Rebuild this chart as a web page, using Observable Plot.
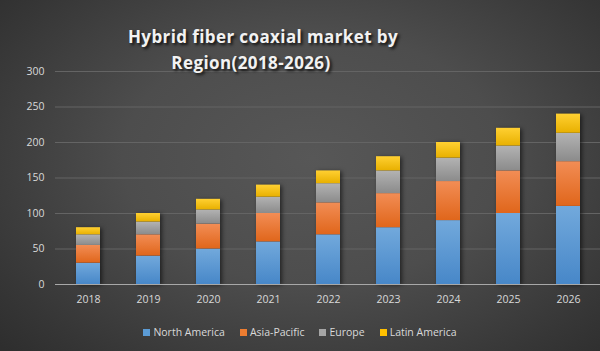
<!DOCTYPE html>
<html>
<head>
<meta charset="utf-8">
<script src="https://cdn.jsdelivr.net/npm/d3@7"></script>
<script src="https://cdn.jsdelivr.net/npm/@observablehq/plot@0.6"></script>
<style>
  html, body { margin: 0; padding: 0; }
  body {
    width: 600px; height: 351px; overflow: hidden; position: relative;
    background: radial-gradient(ellipse 70% 80% at 52% 45%, #575757 0%, #4d4d4d 45%, #363636 85%, #2e2e2e 100%);
    font-family: "Open Sans", sans-serif;
  }
  #title {
    position: absolute; left: 0; top: 0; width: 600px; z-index: 2;
    color: #f2f2f2; font-weight: bold; font-size: 17px; letter-spacing: 0.4px;
    text-shadow: 2px 2px 3px rgba(0,0,0,0.8);
  }
  #title div { position: absolute; white-space: nowrap; transform: translateX(-50%); line-height: 24px; }
  #chart { position: absolute; left: 0; top: 62px; }
  #legend {
    position: absolute; left: 0; top: 322px; width: 600px; height: 20px;
    display: flex; justify-content: center; align-items: center; gap: 15px;
    color: #d9d9d9; font-size: 10.5px;
  }
  #legend span.item { display: flex; align-items: center; }
  #legend span.sw { width: 7px; height: 7px; margin-right: 3px; display: inline-block; }
</style>
</head>
<body>
<div id="title"><div style="left:263px; top:25px;">Hybrid fiber coaxial market by</div><div style="left:251px; top:51px;">Region(2018-2026)</div></div>
<div id="chart"></div>
<div id="legend"></div>
<script>
const years = ["2018","2019","2020","2021","2022","2023","2024","2025","2026"];
const regions = ["North America","Asia-Pacific","Europe","Latin America"];
const northAmerica = [30,40,50,60,70,80,90,100,110];
const asiaPacific  = [25,30,35,40,45,48,55,60,63];
const europe       = [15,18,20,23,27,32,33,35,40];
const latinAmerica = [10,12,15,17,18,20,22,25,27];
const yTicks = [0,50,100,150,200,250,300];

const seriesValues = [northAmerica, asiaPacific, europe, latinAmerica];
const gradients = [
  ["gNA", "#72a9dc", "#4787c8"],
  ["gAP", "#f28d55", "#e0661b"],
  ["gEU", "#b3b3b3", "#8b8b8b"],
  ["gLA", "#ffd032", "#e8b000"]
];
const swatch = ["#5b9bd5", "#ed7d31", "#a5a5a5", "#ffc000"];

const data = [];
years.forEach((y, i) => {
  regions.forEach((r, j) => data.push({year: y, region: r, value: seriesValues[j][i]}));
});

const plot = Plot.plot({
  width: 600,
  height: 258,
  marginLeft: 55,
  marginRight: 0,
  marginTop: 9,
  marginBottom: 36,
  style: {background: "transparent", color: "#d9d9d9", fontFamily: "Open Sans, sans-serif", fontSize: "10.5px"},
  x: {domain: years, paddingInner: 0.6, paddingOuter: 0.3, label: null, tickSize: 0, tickPadding: 11},
  y: {domain: [0, 300], ticks: yTicks, label: null, tickSize: 0, tickPadding: 11},
  color: {domain: regions, range: gradients.map(g => `url(#${g[0]})`)},
  marks: [
    Plot.gridY(yTicks.filter(t => t > 0), {stroke: "#646464", strokeOpacity: 1, strokeWidth: 1}),
    Plot.barY(data, {x: "year", y: "value", fill: "region"}),
    Plot.ruleY([0], {stroke: "#a8a8a8", strokeWidth: 1})
  ]
});

const svg = d3.select(plot);
const defs = svg.insert("defs", ":first-child");
gradients.forEach(([id, top, bottom]) => {
  const g = defs.append("linearGradient").attr("id", id).attr("x1", 0).attr("y1", 0).attr("x2", 0).attr("y2", 1);
  g.append("stop").attr("offset", "0%").attr("stop-color", top);
  g.append("stop").attr("offset", "100%").attr("stop-color", bottom);
});
svg.selectAll("g[aria-label='bar']").style("filter", "drop-shadow(2px 1px 2px rgba(0,0,0,0.55))");
document.getElementById("chart").appendChild(plot);

const legend = d3.select("#legend");
regions.forEach((r, j) => {
  const item = legend.append("span").attr("class", "item");
  item.append("span").attr("class", "sw").style("background", swatch[j]);
  item.append("span").text(r);
});
</script>
</body>
</html>
